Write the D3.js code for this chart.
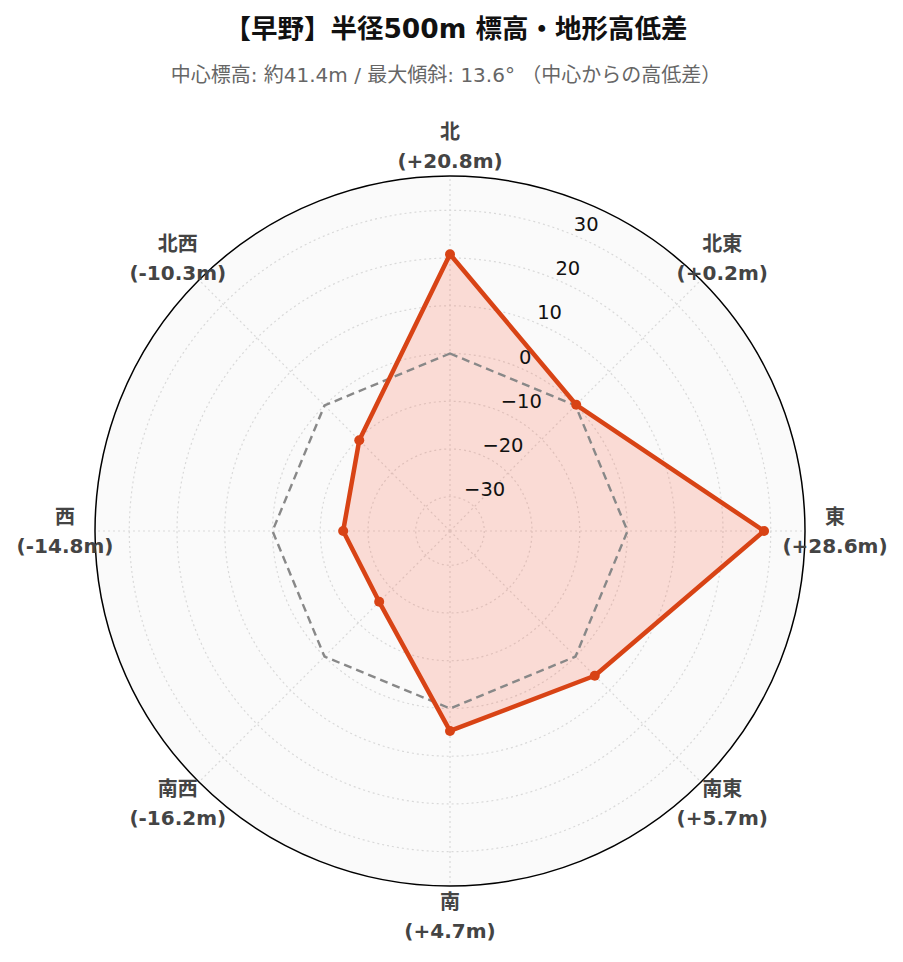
<!DOCTYPE html>
<html><head><meta charset="utf-8">
<script src="https://cdn.jsdelivr.net/npm/d3@7"></script>
<style>
body{margin:0;background:#fff;}
svg{display:block;}
</style></head>
<body><svg id="c" width="903" height="962"></svg>
<script>
const directions = ["北","北東","東","南東","南","南西","西","北西"];
const values = [20.8, 0.2, 28.6, 5.7, 4.7, -16.2, -14.8, -10.3];
const baseline = [0,0,0,0,0,0,0,0];
const radialTicks = [-30,-20,-10,0,10,20,30];
const titleText = "【早野】半径500m 標高・地形高低差";
const subtitleText = "中心標高: 約41.4m / 最大傾斜: 13.6° （中心からの高低差）";

const svg = d3.select("#c");
const cx = 450, cy = 531, R = 355;
const maxAbs = d3.max(values, v => Math.abs(v)) * 1.3;
const r = d3.scaleLinear().domain([-maxAbs, maxAbs]).range([0, R]);
const ang = d3.scalePoint().domain(directions).range([0, 2*Math.PI*(directions.length-1)/directions.length]);
const latin = "'DejaVu Sans','Noto Sans CJK JP',sans-serif";

const g = svg.append("g").attr("transform", `translate(${cx},${cy})`);
function pt(dir, rad){ const a = ang(dir); return [rad*Math.sin(a), -rad*Math.cos(a)]; }

g.append("circle").attr("r", R).attr("fill", "#fafafa");
g.selectAll(".gc").data(radialTicks).enter().append("circle")
  .attr("r", d => r(d)).attr("fill","none").attr("stroke","#d9d9d9")
  .attr("stroke-width",1.2).attr("stroke-dasharray","2,3");
g.selectAll(".ag").data(directions).enter().append("line")
  .attr("x1",0).attr("y1",0)
  .attr("x2", d => pt(d,R)[0]).attr("y2", d => pt(d,R)[1])
  .attr("stroke","#d9d9d9").attr("stroke-width",1.2).attr("stroke-dasharray","2,3");

const line = d3.lineRadial().angle((d,i)=>ang(directions[i])).radius(d=>r(d)).curve(d3.curveLinearClosed);
g.append("path").attr("d", line(values)).attr("fill","rgba(250,95,65,0.2)").attr("stroke","none");
g.append("path").attr("d", line(baseline)).attr("fill","none")
  .attr("stroke","#888").attr("stroke-width",2.4).attr("stroke-dasharray","8,5");
g.append("path").attr("d", line(values)).attr("fill","none")
  .attr("stroke","#d84315").attr("stroke-width",4.5).attr("stroke-linejoin","round");
g.selectAll(".mk").data(values).enter().append("circle")
  .attr("cx",(d,i)=>pt(directions[i], r(d))[0])
  .attr("cy",(d,i)=>pt(directions[i], r(d))[1])
  .attr("r",5).attr("fill","#d84315");

g.append("circle").attr("r", R).attr("fill","none").attr("stroke","#000").attr("stroke-width",1.5);

const ta = Math.PI/8;
g.selectAll(".tl").data(radialTicks).enter().append("text")
  .attr("x", d => r(d)*Math.sin(ta)+1)
  .attr("y", d => -r(d)*Math.cos(ta)-10)
  .attr("dominant-baseline","central")
  .attr("font-family", latin).attr("font-size", 19.5).attr("fill","#111")
  .text(d => d3.format("")(d).replace("-","−"));

const LR = 385;
directions.forEach((dir,i)=>{
  const [x,y] = pt(dir, LR);
  const v = values[i];
  const t = g.append("text").attr("text-anchor","middle")
    .attr("font-family", latin).attr("font-weight","bold").attr("font-size",20).attr("fill","#444");
  t.append("tspan").attr("x",x).attr("y",y-14.5).attr("dominant-baseline","central").text(dir);
  t.append("tspan").attr("x",x).attr("y",y+14.5).attr("dominant-baseline","central")
    .text(`(${v>=0?"+":""}${v.toFixed(1)}m)`);
});

svg.append("text").attr("x",456).attr("y",28).attr("text-anchor","middle").attr("dominant-baseline","central")
  .attr("font-family", latin).attr("font-weight","bold").attr("font-size",26.5).attr("fill","#111").text(titleText);
svg.append("text").attr("x",446).attr("y",75).attr("text-anchor","middle").attr("dominant-baseline","central")
  .attr("font-family", latin).attr("font-size",20).attr("fill","#666").text(subtitleText);
</script></body></html>
